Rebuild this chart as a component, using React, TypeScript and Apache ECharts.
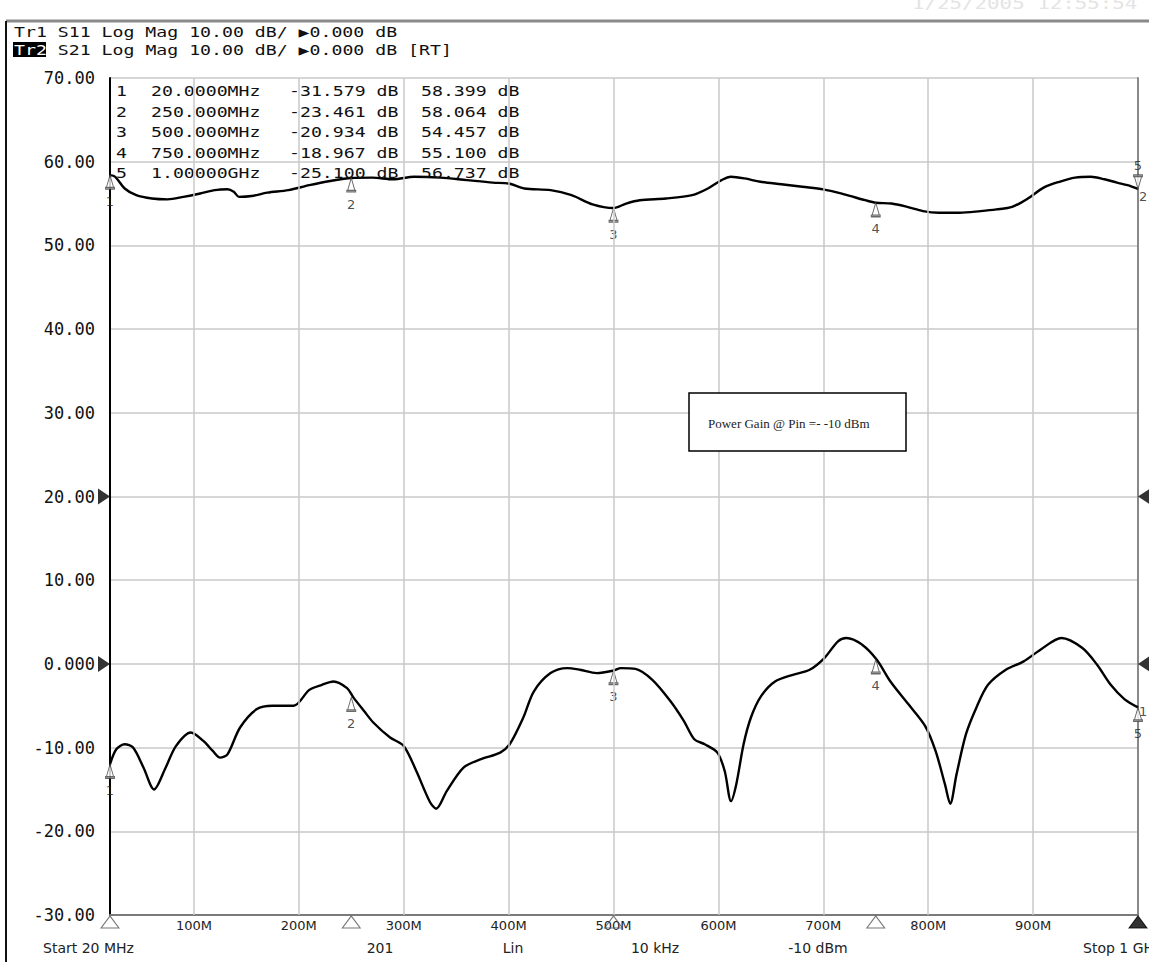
import React, { useEffect, useRef } from "react";
import * as echarts from "echarts";

// ---- data ----
const s21Freq = [20, 25, 34, 45, 60, 75, 90, 106, 120, 132, 138, 143, 155, 170, 190, 210, 230, 250, 270, 290, 310, 335, 360, 385, 400, 415, 440, 460, 480, 500, 512, 525, 550, 575, 590, 603, 612, 625, 640, 660, 680, 700, 720, 740, 750, 765, 780, 795, 810, 830, 850, 865, 880, 895, 910, 925, 940, 955, 968, 980, 990, 1000];
const s21Db = [58.4, 58.2, 56.8, 56.0, 55.6, 55.5, 55.8, 56.2, 56.6, 56.7, 56.4, 55.8, 55.9, 56.3, 56.6, 57.2, 57.7, 58.06, 58.1, 57.9, 58.2, 58.1, 57.8, 57.5, 57.4, 56.8, 56.6, 56.0, 54.9, 54.46, 55.0, 55.4, 55.6, 56.0, 56.8, 57.8, 58.2, 58.0, 57.6, 57.3, 57.0, 56.7, 56.1, 55.4, 55.1, 55.0, 54.6, 54.1, 53.9, 53.9, 54.1, 54.3, 54.6, 55.6, 56.9, 57.6, 58.1, 58.2, 57.9, 57.5, 57.2, 56.74];

const s11Freq = [20, 26, 34, 42, 52, 62, 73, 83, 97, 109, 118, 125, 132, 144, 160, 175, 195, 210, 222, 233, 246, 252, 262, 271, 287, 300, 312, 325, 331, 341, 357, 373, 392, 401, 414, 424, 440, 456, 468, 484, 500, 507, 521, 537, 554, 567, 577, 587, 599, 606, 612, 617, 624, 631, 641, 654, 671, 687, 701, 714, 722, 737, 751, 764, 781, 797, 807, 816, 821, 827, 836, 846, 857, 874, 891, 907, 927, 947, 961, 974, 987, 1000];
const s11Db = [-12.0, -10.2, -9.6, -10.0, -12.4, -15.0, -12.4, -9.8, -8.2, -9.2, -10.4, -11.2, -10.8, -7.6, -5.4, -5.0, -5.0, -3.1, -2.5, -2.1, -2.9, -4.0, -5.6, -7.0, -8.8, -9.8, -12.8, -16.5, -17.3, -15.2, -12.4, -11.4, -10.6, -9.6, -6.4, -3.3, -1.1, -0.5, -0.7, -1.1, -0.8, -0.5, -0.6, -1.9, -4.4, -6.8, -9.0, -9.6, -10.6, -12.8, -16.4, -14.4, -9.6, -6.4, -3.8, -2.1, -1.3, -0.7, 0.7, 2.7, 3.1, 2.3, 0.5, -2.1, -4.8, -7.4, -10.4, -14.4, -16.7, -13.2, -8.4, -5.2, -2.5, -0.7, 0.3, 1.7, 3.1, 1.9, -0.1, -2.5, -4.2, -5.2];

const markerNums = ["1", "2", "3", "4", "5"];
const markerFreqMHz = [20, 250, 500, 750, 1000];
const markerFreqLabels = ["20.0000MHz", "250.000MHz", "500.000MHz", "750.000MHz", "1.00000GHz"];
const markerS11Db = [-31.579, -23.461, -20.934, -18.967, -25.1];
const markerS21Db = [58.399, 58.064, 54.457, 55.1, 56.737];
const markerLowerTraceDb = [-12.0, -4.0, -0.8, 0.5, -5.2];

const xTickMHz = [100, 200, 300, 400, 500, 600, 700, 800, 900];
const refLevelsDb = [20, 0];

const headerTr1 = "Tr1 S11 Log Mag 10.00 dB/ \u25B60.000 dB";
const headerTr2Tag = "Tr2";
const headerTr2 = " S21 Log Mag 10.00 dB/ \u25B60.000 dB [RT]";
const dateText = "1/25/2005 12:55:54 AM";
const footerLabels = ["Start 20 MHz", "201", "Lin", "10 kHz", "-10 dBm", "Stop 1 GHz"];
const noteText = "Power Gain @ Pin =- -10 dBm";

const BELL = "path://M5,0 L9,12 L1,12 Z M0,12 L10,12 L10,13.5 L0,13.5 Z";
const MONO = "DejaVu Sans Mono";

export default function App() {
  const ref = useRef<HTMLDivElement>(null);

  useEffect(() => {
    if (!ref.current) return;
    const chart = echarts.init(ref.current, undefined, { renderer: "svg" });

    const markerLabel = {
      show: true,
      position: "bottom",
      distance: 5,
      formatter: "{b}",
      color: "#222",
      fontFamily: "DejaVu Sans",
      fontSize: 13,
    };
    const bellStyle = { color: "#fff", borderColor: "#444", borderWidth: 1.1 };

    const s21MarkerData: any[] = markerFreqMHz.map((f, i) => {
      const last = i === markerFreqMHz.length - 1;
      return last
        ? {
            name: markerNums[i],
            value: [f, markerS21Db[i]],
            symbolRotate: 180,
            symbolOffset: [0, -7],
            label: { position: "top", distance: 2 },
          }
        : { name: markerNums[i], value: [f, markerS21Db[i]] };
    });
    s21MarkerData.push({
      name: "2",
      value: [markerFreqMHz[4], markerS21Db[4]],
      symbolSize: 0,
      label: { position: "right", distance: 1 },
    });

    const s11MarkerData: any[] = markerFreqMHz.map((f, i) => ({
      name: markerNums[i],
      value: [f, markerLowerTraceDb[i]],
    }));
    s11MarkerData.push({
      name: "1",
      value: [markerFreqMHz[4], markerLowerTraceDb[4]],
      symbolSize: 0,
      label: { position: "right", distance: 1, offset: [0, -3] },
    });

    const text = (t: string, x: number, y: number, extra: any = {}, sx = 1) => ({
      type: "text",
      x,
      y,
      scaleX: sx,
      z: extra.z ?? 5,
      style: {
        text: t,
        font: extra.font ?? `14px "${MONO}"`,
        fill: extra.fill ?? "#111",
        textAlign: extra.align ?? "left",
        textVerticalAlign: "middle",
      },
    });

    const tableRowsY = [91, 112, 132, 153, 173];
    const tableEls: any[] = [];
    markerNums.forEach((n, i) => {
      const y = tableRowsY[i];
      tableEls.push(text(n, 116, y, {}, 1.3));
      tableEls.push(text(markerFreqLabels[i], 151, y, {}, 1.3));
      tableEls.push(text(markerS11Db[i].toFixed(3) + " dB", 289, y, {}, 1.3));
      tableEls.push(text(markerS21Db[i].toFixed(3) + " dB", 421, y, {}, 1.3));
    });

    const footerX = [43, 380, 513, 655, 818, 1083];
    const footerAlign = ["left", "center", "center", "center", "center", "left"];
    const footerEls = footerLabels.map((t, i) =>
      text(t, footerX[i], 948, { font: '14px "DejaVu Sans"', fill: "#222", align: footerAlign[i] })
    );

    const option: any = {
      animation: false,
      backgroundColor: "#fff",
      grid: { left: 110, right: 11, top: 78, bottom: 47 },
      xAxis: {
        type: "value",
        min: 20,
        max: 1000,
        axisLine: { show: true, onZero: false, lineStyle: { color: "#7a7a7a", width: 2 } },
        axisTick: { show: false },
        splitLine: { show: false },
        axisLabel: {
          customValues: xTickMHz,
          formatter: (v: number) => `${v}M`,
          color: "#222",
          fontFamily: "DejaVu Sans",
          fontSize: 13,
          margin: 4,
        },
      },
      yAxis: [
        {
          type: "value",
          min: -30,
          max: 70,
          interval: 10,
          axisLine: { show: true, onZero: false, lineStyle: { color: "#000", width: 2 } },
          axisTick: { show: false },
          splitLine: { show: true, lineStyle: { color: "#c8c8c8", width: 1.5 } },
          axisLabel: {
            formatter: (v: number) => (v === 0 ? "0.000" : v.toFixed(2)),
            fontFamily: MONO,
            fontSize: 17,
            color: "#111",
            margin: 15,
          },
        },
        {
          type: "value",
          position: "right",
          min: -30,
          max: 70,
          interval: 10,
          axisLine: { show: true, onZero: false, lineStyle: { color: "#888", width: 2 } },
          axisTick: { show: false },
          axisLabel: { show: false },
          splitLine: { show: false },
        },
      ],
      graphic: [
        { type: "line", shape: { x1: 6, y1: 21, x2: 1149, y2: 21 }, style: { stroke: "#8a8a8a", lineWidth: 3 }, z: 5 },
        { type: "line", shape: { x1: 6, y1: 21, x2: 6, y2: 962 }, style: { stroke: "#111", lineWidth: 2 }, z: 5 },
        text(dateText, 912, 3, { font: `16px "${MONO}"`, fill: "#e4e4e4" }, 1.3),
        text(headerTr1, 14, 32, {}, 1.3),
        { type: "rect", shape: { x: 13, y: 42, width: 33, height: 15 }, style: { fill: "#000" }, z: 5 },
        text(headerTr2Tag, 14, 50, { fill: "#fff", z: 6 }, 1.3),
        text(headerTr2, 14 + 3 * 8.43 * 1.3, 50, {}, 1.3),
        ...tableEls,
        ...footerEls,
        {
          type: "rect",
          shape: { x: 689, y: 393, width: 217, height: 58 },
          style: { fill: "#fff", stroke: "#000", lineWidth: 1.5 },
          z: 10,
        },
        text(noteText, 708, 423, { font: '13px "Liberation Serif"', fill: "#222", z: 11 }),
      ],
      series: [
        {
          type: "line",
          data: [],
          z: 1,
          silent: true,
          markLine: {
            silent: true,
            symbol: ["none", "none"],
            label: { show: false },
            lineStyle: { color: "#c8c8c8", width: 1.5, type: "solid" },
            emphasis: { disabled: true },
            data: xTickMHz.map((v) => ({ xAxis: v })),
          },
        },
        {
          type: "line",
          name: "S21",
          data: s21Freq.map((f, i) => [f, s21Db[i]]),
          symbol: "none",
          smooth: 0.3,
          lineStyle: { color: "#000", width: 2.4 },
          z: 3,
          silent: true,
        },
        {
          type: "line",
          name: "S11",
          data: s11Freq.map((f, i) => [f, s11Db[i]]),
          symbol: "none",
          smooth: 0.3,
          lineStyle: { color: "#000", width: 2.4 },
          z: 3,
          silent: true,
        },
        {
          type: "scatter",
          data: s21MarkerData,
          symbol: BELL,
          symbolSize: [9, 14],
          symbolOffset: [0, 7],
          itemStyle: bellStyle,
          label: markerLabel,
          clip: false,
          z: 4,
          silent: true,
        },
        {
          type: "scatter",
          data: s11MarkerData,
          symbol: BELL,
          symbolSize: [9, 14],
          symbolOffset: [0, 7],
          itemStyle: bellStyle,
          label: markerLabel,
          clip: false,
          z: 4,
          silent: true,
        },
        {
          type: "scatter",
          data: markerFreqMHz.map((f, i) =>
            i === markerFreqMHz.length - 1
              ? { value: [f, -30], itemStyle: { color: "#000", borderColor: "#000" } }
              : { value: [f, -30] }
          ),
          symbol: "triangle",
          symbolSize: [18, 12],
          symbolOffset: [0, 7],
          itemStyle: { color: "rgba(255,255,255,0)", borderColor: "#555", borderWidth: 1 },
          clip: false,
          z: 4,
          silent: true,
        },
        {
          type: "scatter",
          data: refLevelsDb.flatMap((v) => [
            { value: [20, v], symbolRotate: -90, symbolOffset: [-6, 0] },
            { value: [1000, v], symbolRotate: 90, symbolOffset: [6, 0] },
          ]),
          symbol: "triangle",
          symbolSize: [16, 12],
          itemStyle: { color: "#000" },
          clip: false,
          z: 4,
          silent: true,
        },
      ],
    };

    chart.setOption(option);
    return () => chart.dispose();
  }, []);

  return (
    <div
      ref={ref}
      style={{ position: "fixed", left: 0, top: 0, width: 1149, height: 962, background: "#fff" }}
    />
  );
}
